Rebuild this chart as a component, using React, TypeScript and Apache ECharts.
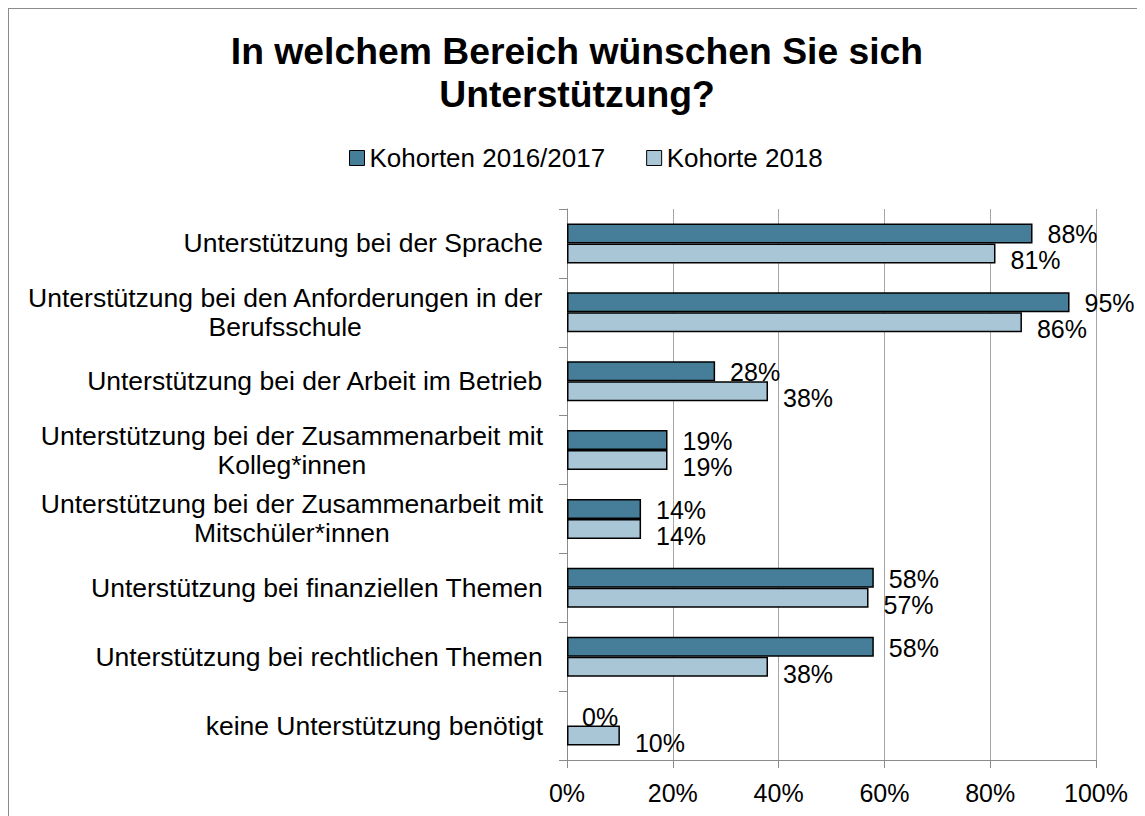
import React, { useEffect, useRef } from "react";
import * as echarts from "echarts";

const titleText = "In welchem Bereich wünschen Sie sich\nUnterstützung?";
const categories = [
  "Unterstützung bei der Sprache",
  "Unterstützung bei den Anforderungen in der\nBerufsschule",
  "Unterstützung bei der Arbeit im Betrieb",
  "Unterstützung bei der Zusammenarbeit mit\nKolleg*innen",
  "Unterstützung bei der Zusammenarbeit mit\nMitschüler*innen",
  "Unterstützung bei finanziellen Themen",
  "Unterstützung bei rechtlichen Themen",
  "keine Unterstützung benötigt",
];
const seriesNames = ["Kohorten 2016/2017", "Kohorte 2018"];
const kohorten2016_2017 = [88, 95, 28, 19, 14, 58, 58, 0];
const kohorte2018 = [81, 86, 38, 19, 14, 57, 38, 10];
const xMin = 0;
const xMax = 100;
const xStep = 20;

const FONT = '"Liberation Sans", Arial, sans-serif';
const DARK = "#467d98";
const LIGHT = "#a8c6d6";
const GRID_GREY = "#a6a6a6";
const AXIS_GREY = "#8c8c8c";

// zero-length bars get no outline (as in the original chart)
const toBarData = (arr: number[]) =>
  arr.map((v) => (v === 0 ? { value: v, itemStyle: { borderWidth: 0 } } : v));

export default function App() {
  const ref = useRef<HTMLDivElement>(null);

  useEffect(() => {
    if (!ref.current) return;
    const chart = echarts.init(ref.current, undefined, { renderer: "svg" });
    const labelBase = {
      show: true,
      position: "right",
      distance: 15,
      color: "#000",
      fontSize: 25,
      fontFamily: FONT,
      formatter: (p: any) => `${p.value}%`,
    };
    chart.setOption({
      animation: false,
      backgroundColor: "#fff",
      title: {
        text: titleText,
        left: "center",
        top: 20,
        padding: [0, 0, 0, 12],
        textStyle: {
          fontSize: 37.3,
          fontWeight: "bold",
          fontFamily: FONT,
          color: "#000",
          lineHeight: 43,
        },
      },
      legend: {
        data: seriesNames,
        left: 340,
        top: 136,
        padding: 0,
        itemWidth: 15,
        itemHeight: 15,
        itemGap: 41,
        icon: "rect",
        textStyle: { fontSize: 26, fontFamily: FONT, color: "#000", lineHeight: 26 },
        itemStyle: { borderColor: "#000", borderWidth: 1 },
      },
      grid: { left: 558, right: 49, top: 200, bottom: 56, containLabel: false },
      xAxis: {
        type: "value",
        min: xMin,
        max: xMax,
        interval: xStep,
        axisLine: { show: true, lineStyle: { color: AXIS_GREY, width: 1 } },
        axisTick: { show: true, length: 8, lineStyle: { color: AXIS_GREY } },
        splitLine: { show: true, lineStyle: { color: GRID_GREY, width: 1 } },
        axisLabel: {
          formatter: "{value}%",
          fontSize: 25,
          fontFamily: FONT,
          color: "#000",
          margin: 20,
        },
      },
      yAxis: {
        type: "category",
        data: categories,
        inverse: true,
        axisLine: { show: true, lineStyle: { color: AXIS_GREY, width: 1 } },
        axisTick: { show: true, length: 8, alignWithLabel: false, lineStyle: { color: AXIS_GREY } },
        splitLine: { show: false },
        axisLabel: {
          margin: 24,
          interval: 0,
          align: "right",
          formatter: (v: string) =>
            v
              .split("\n")
              .map((l) => `{c|${l}}`)
              .join("\n"),
          rich: {
            c: {
              fontSize: 26.5,
              fontFamily: FONT,
              color: "#000",
              align: "center",
              lineHeight: 29,
            },
          },
        },
      },
      series: [
        {
          name: seriesNames[0],
          type: "bar",
          data: toBarData(kohorten2016_2017),
          barWidth: 20,
          barGap: "0%",
          itemStyle: { color: DARK, borderColor: "#000", borderWidth: 1.5 },
          label: { ...labelBase, offset: [0, 1] },
        },
        {
          name: seriesNames[1],
          type: "bar",
          data: toBarData(kohorte2018),
          barWidth: 20,
          barGap: "0%",
          itemStyle: { color: LIGHT, borderColor: "#000", borderWidth: 1.5 },
          label: { ...labelBase, offset: [0, 7] },
        },
      ],
    });
    return () => chart.dispose();
  }, []);

  return (
    <div
      style={{
        width: 1137,
        height: 808,
        boxSizing: "border-box",
        borderLeft: "1px solid #8c8c8c",
        borderTop: "1px solid #8c8c8c",
        background: "#fff",
      }}
    >
      <div ref={ref} style={{ width: 1136, height: 807 }} />
    </div>
  );
}
